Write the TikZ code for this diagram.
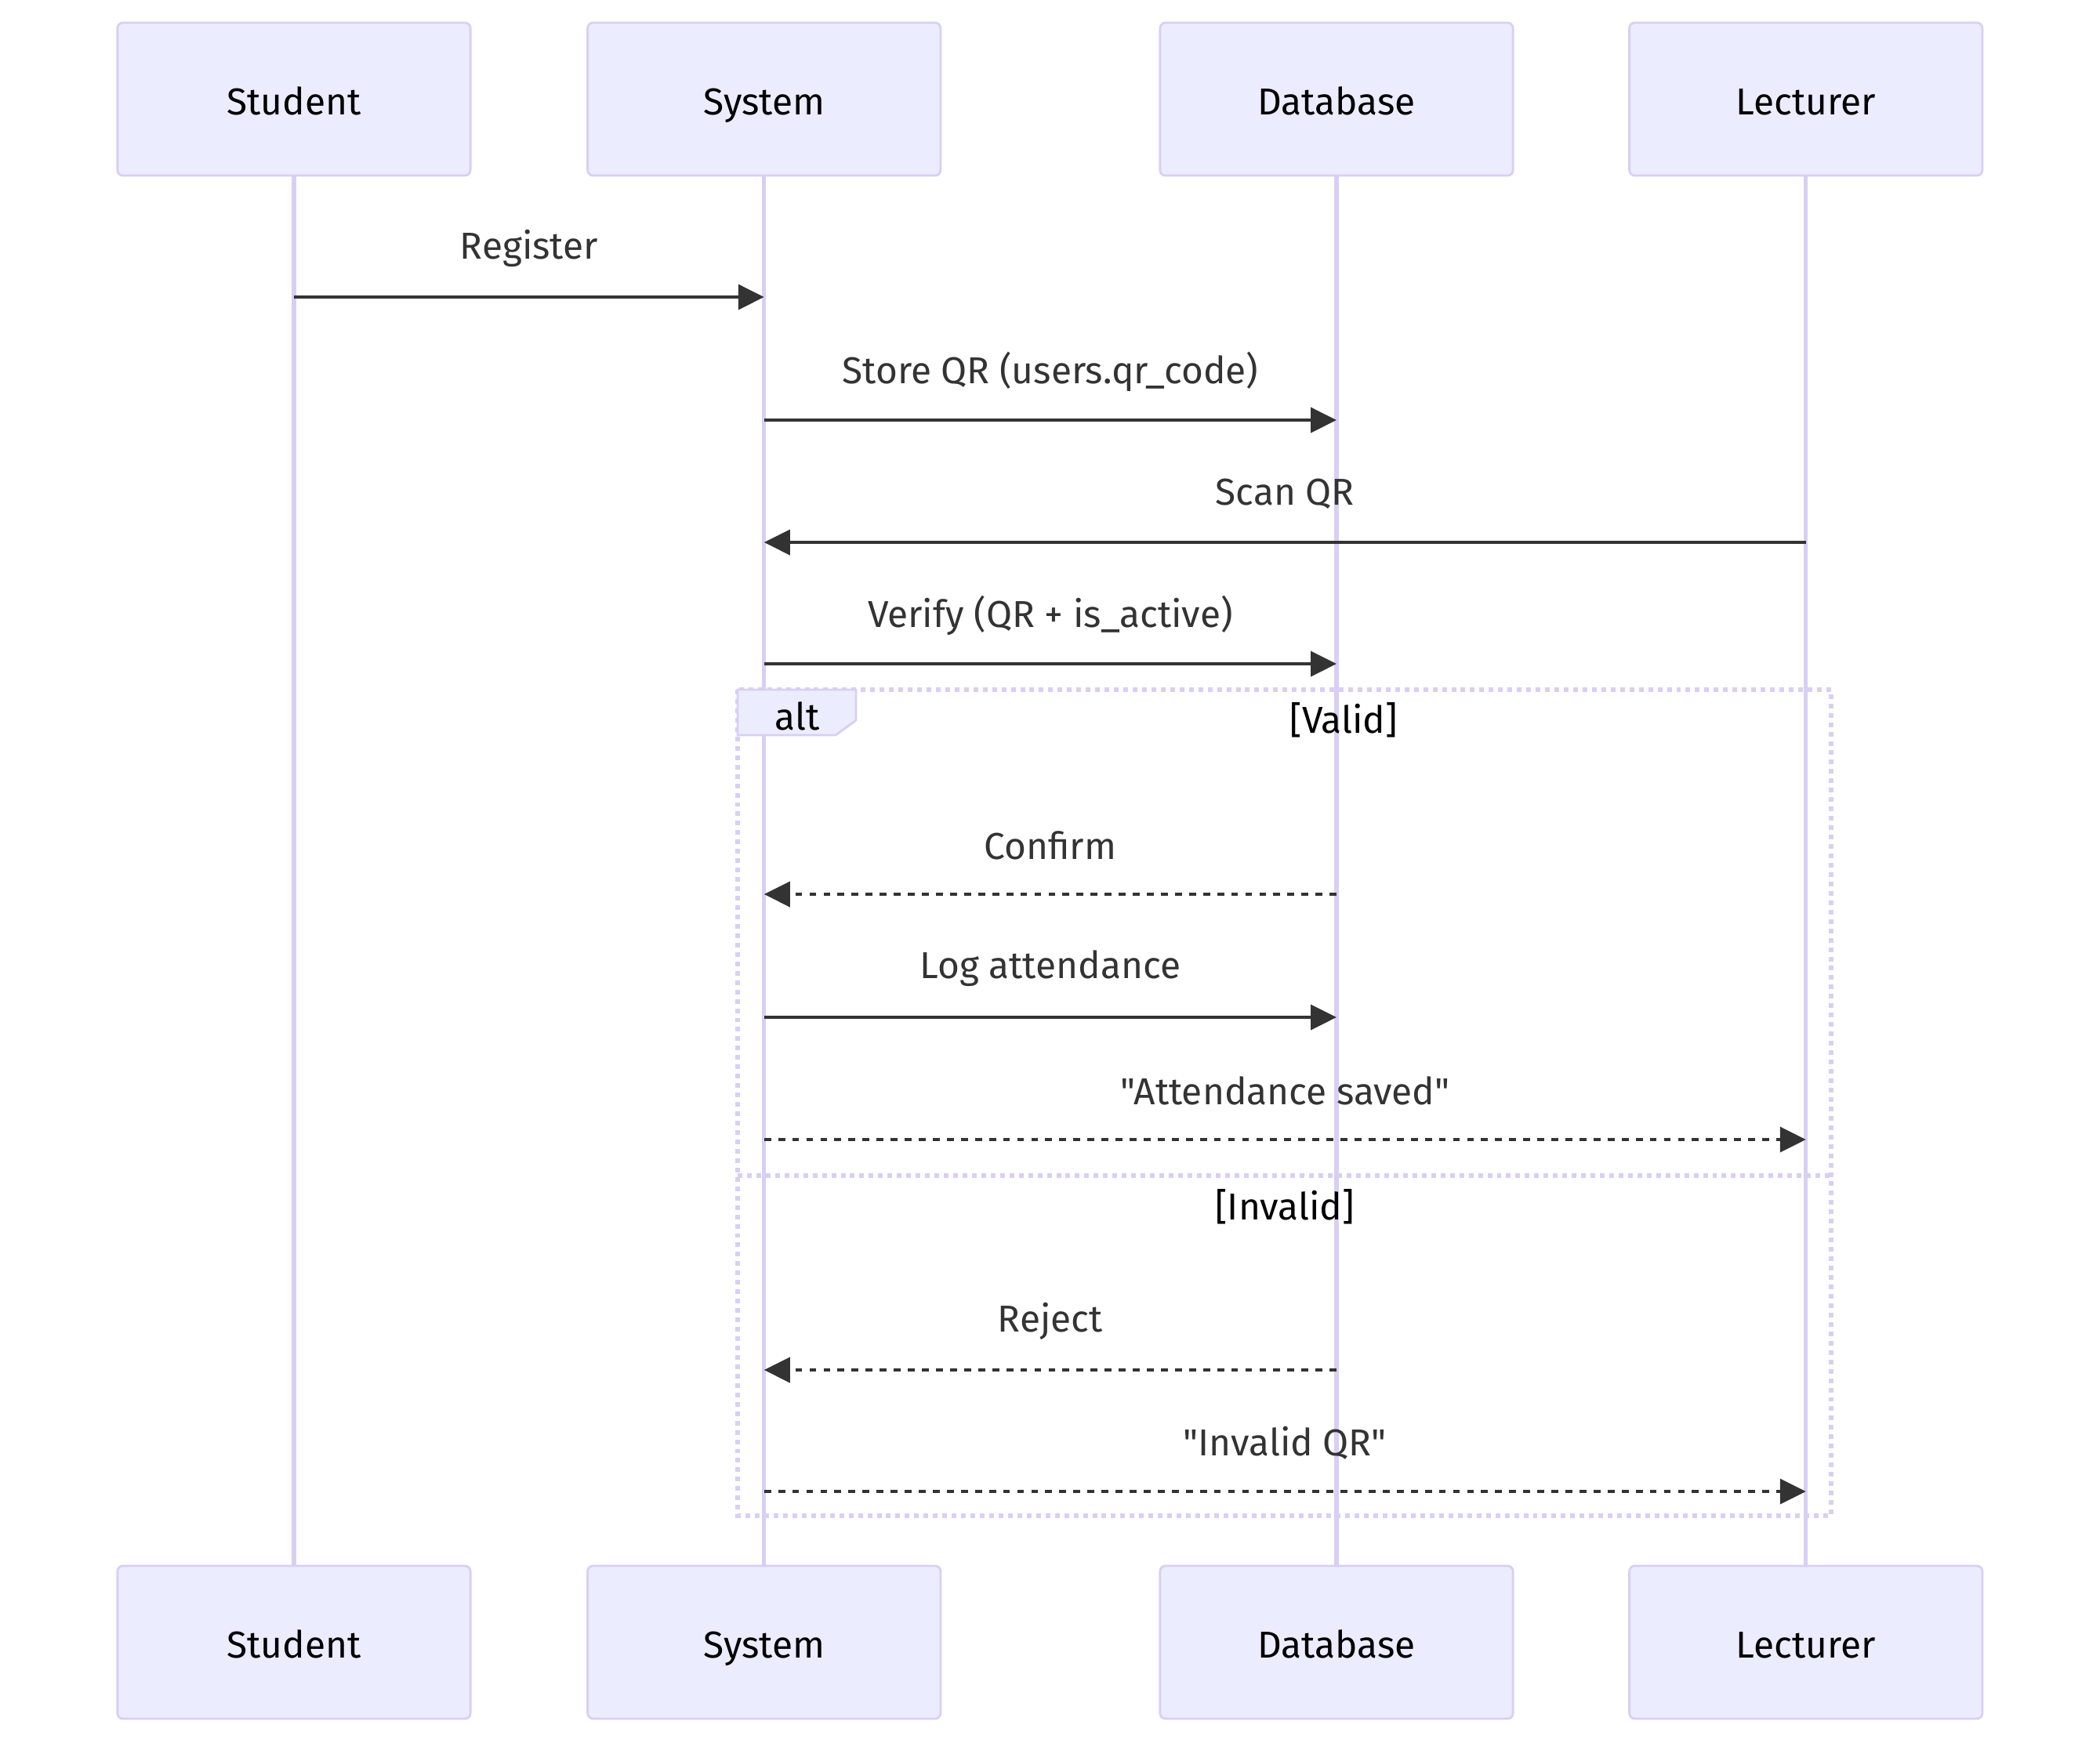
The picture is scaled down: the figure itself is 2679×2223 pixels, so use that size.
\documentclass[tikz,border=0pt]{standalone}
\usepackage{fontspec}
\setmainfont{Fira Sans}[Ligatures=TeXOff]
\usetikzlibrary{arrows.meta, positioning}
\definecolor{actorfill}{HTML}{ECECFF}
\definecolor{actorline}{HTML}{D9CFF3}
\definecolor{msgline}{HTML}{333333}
\tikzset{
  seq/.style={
	x=0.01cm, y=-0.01cm, % one unit is one pixel of the drawing
	font=\fontsize{13.6}{16}\selectfont,
  },
  actor/.style={draw=actorline, fill=actorfill, line width=0.8pt, rounded corners=2pt,
	minimum width=4.5cm, minimum height=1.95cm,
	text height=1.3em, text depth=0.15em}, % boxes of the participants
  lifeline/.style={draw=actorline, line width=1.5pt},
  msg/.style={-{Triangle[length=0.33cm, width=0.32cm]}, draw=msgline, line width=1.1pt}, % a call
  reply/.style={msg, dash pattern=on 2.5pt off 2.6pt}, % an answer
  msgtext/.style={text=msgline, yshift=0.62cm, inner sep=0pt},
  frame/.style={draw=actorline, line width=1.6pt, dash pattern=on 1.7pt off 1.7pt},
}

\begin{document}
\begin{tikzpicture}[seq]
	  \useasboundingbox (0,0) rectangle (2679,2223);
	  % participants
	  \node[actor] (st) at (375,126.5) {Student};
	  \node[actor, right=1.466cm of st] (sy) {System};
	  \node[actor, right=2.77cm of sy] (db) {Database};
	  \node[actor, right=1.456cm of db] (le) {Lecturer};
	  \node[actor, below=17.7cm of st] (stB) {Student};
	  \node[actor, below=17.7cm of sy] (syB) {System};
	  \node[actor, below=17.7cm of db] (dbB) {Database};
	  \node[actor, below=17.7cm of le] (leB) {Lecturer};
	  % lifelines
	  \draw[lifeline] (st) -- (stB)
		  (sy) -- (syB)
		  (db) -- (dbB)
		  (le) -- (leB);
	  % alt frame
	  \coordinate (altNW) at (941,880);
	  \coordinate (altSE) at (2336,1934);
	  \coordinate (sepW) at (941,1500);
	  \coordinate (sepE) at (2336,1500);
	  \draw[frame] (altNW) rectangle (altSE);
	  \draw[frame] (sepW) -- (sepE);
	  \draw[draw=actorline, fill=actorfill, line width=0.8pt]
		  (altNW) -- (1092,880) -- (1092,919) -- (1066,938) -- (941,938) -- cycle;
	  \node (alt) at (1017,914) {alt};
	  \node (valid) at (1714,919) {[Valid]};
	  \node (invalid) at (1639,1540) {[Invalid]};
	  % one point on every lifeline for each message
	  \foreach \n/\y in {1/379, 2/536, 3/692, 4/847, 5/1141, 6/1298, 7/1454, 8/1748, 9/1903} {
		  \coordinate (st\n) at (st |- 0,\y);
		  \coordinate (sy\n) at (sy |- 0,\y);
		  \coordinate (db\n) at (db |- 0,\y);
		  \coordinate (le\n) at (le |- 0,\y);
	  }
	  \draw   (st1) edge[msg] node[msgtext]{Register} (sy1)
		  (sy2) edge[msg] node[msgtext]{Store QR (users.qr\_code)} (db2)
		  (le3) edge[msg] node[msgtext]{Scan QR} (sy3)
		  (sy4) edge[msg] node[msgtext]{Verify (QR + is\_active)} (db4)
		  (db5) edge[reply] node[msgtext]{Confirm} (sy5)
		  (sy6) edge[msg] node[msgtext]{Log attendance} (db6)
		  (sy7) edge[reply] node[msgtext]{"Attendance saved"} (le7)
		  (db8) edge[reply] node[msgtext]{Reject} (sy8)
		  (sy9) edge[reply] node[msgtext]{"Invalid QR"} (le9)
	  ;
\end{tikzpicture}
\end{document}
